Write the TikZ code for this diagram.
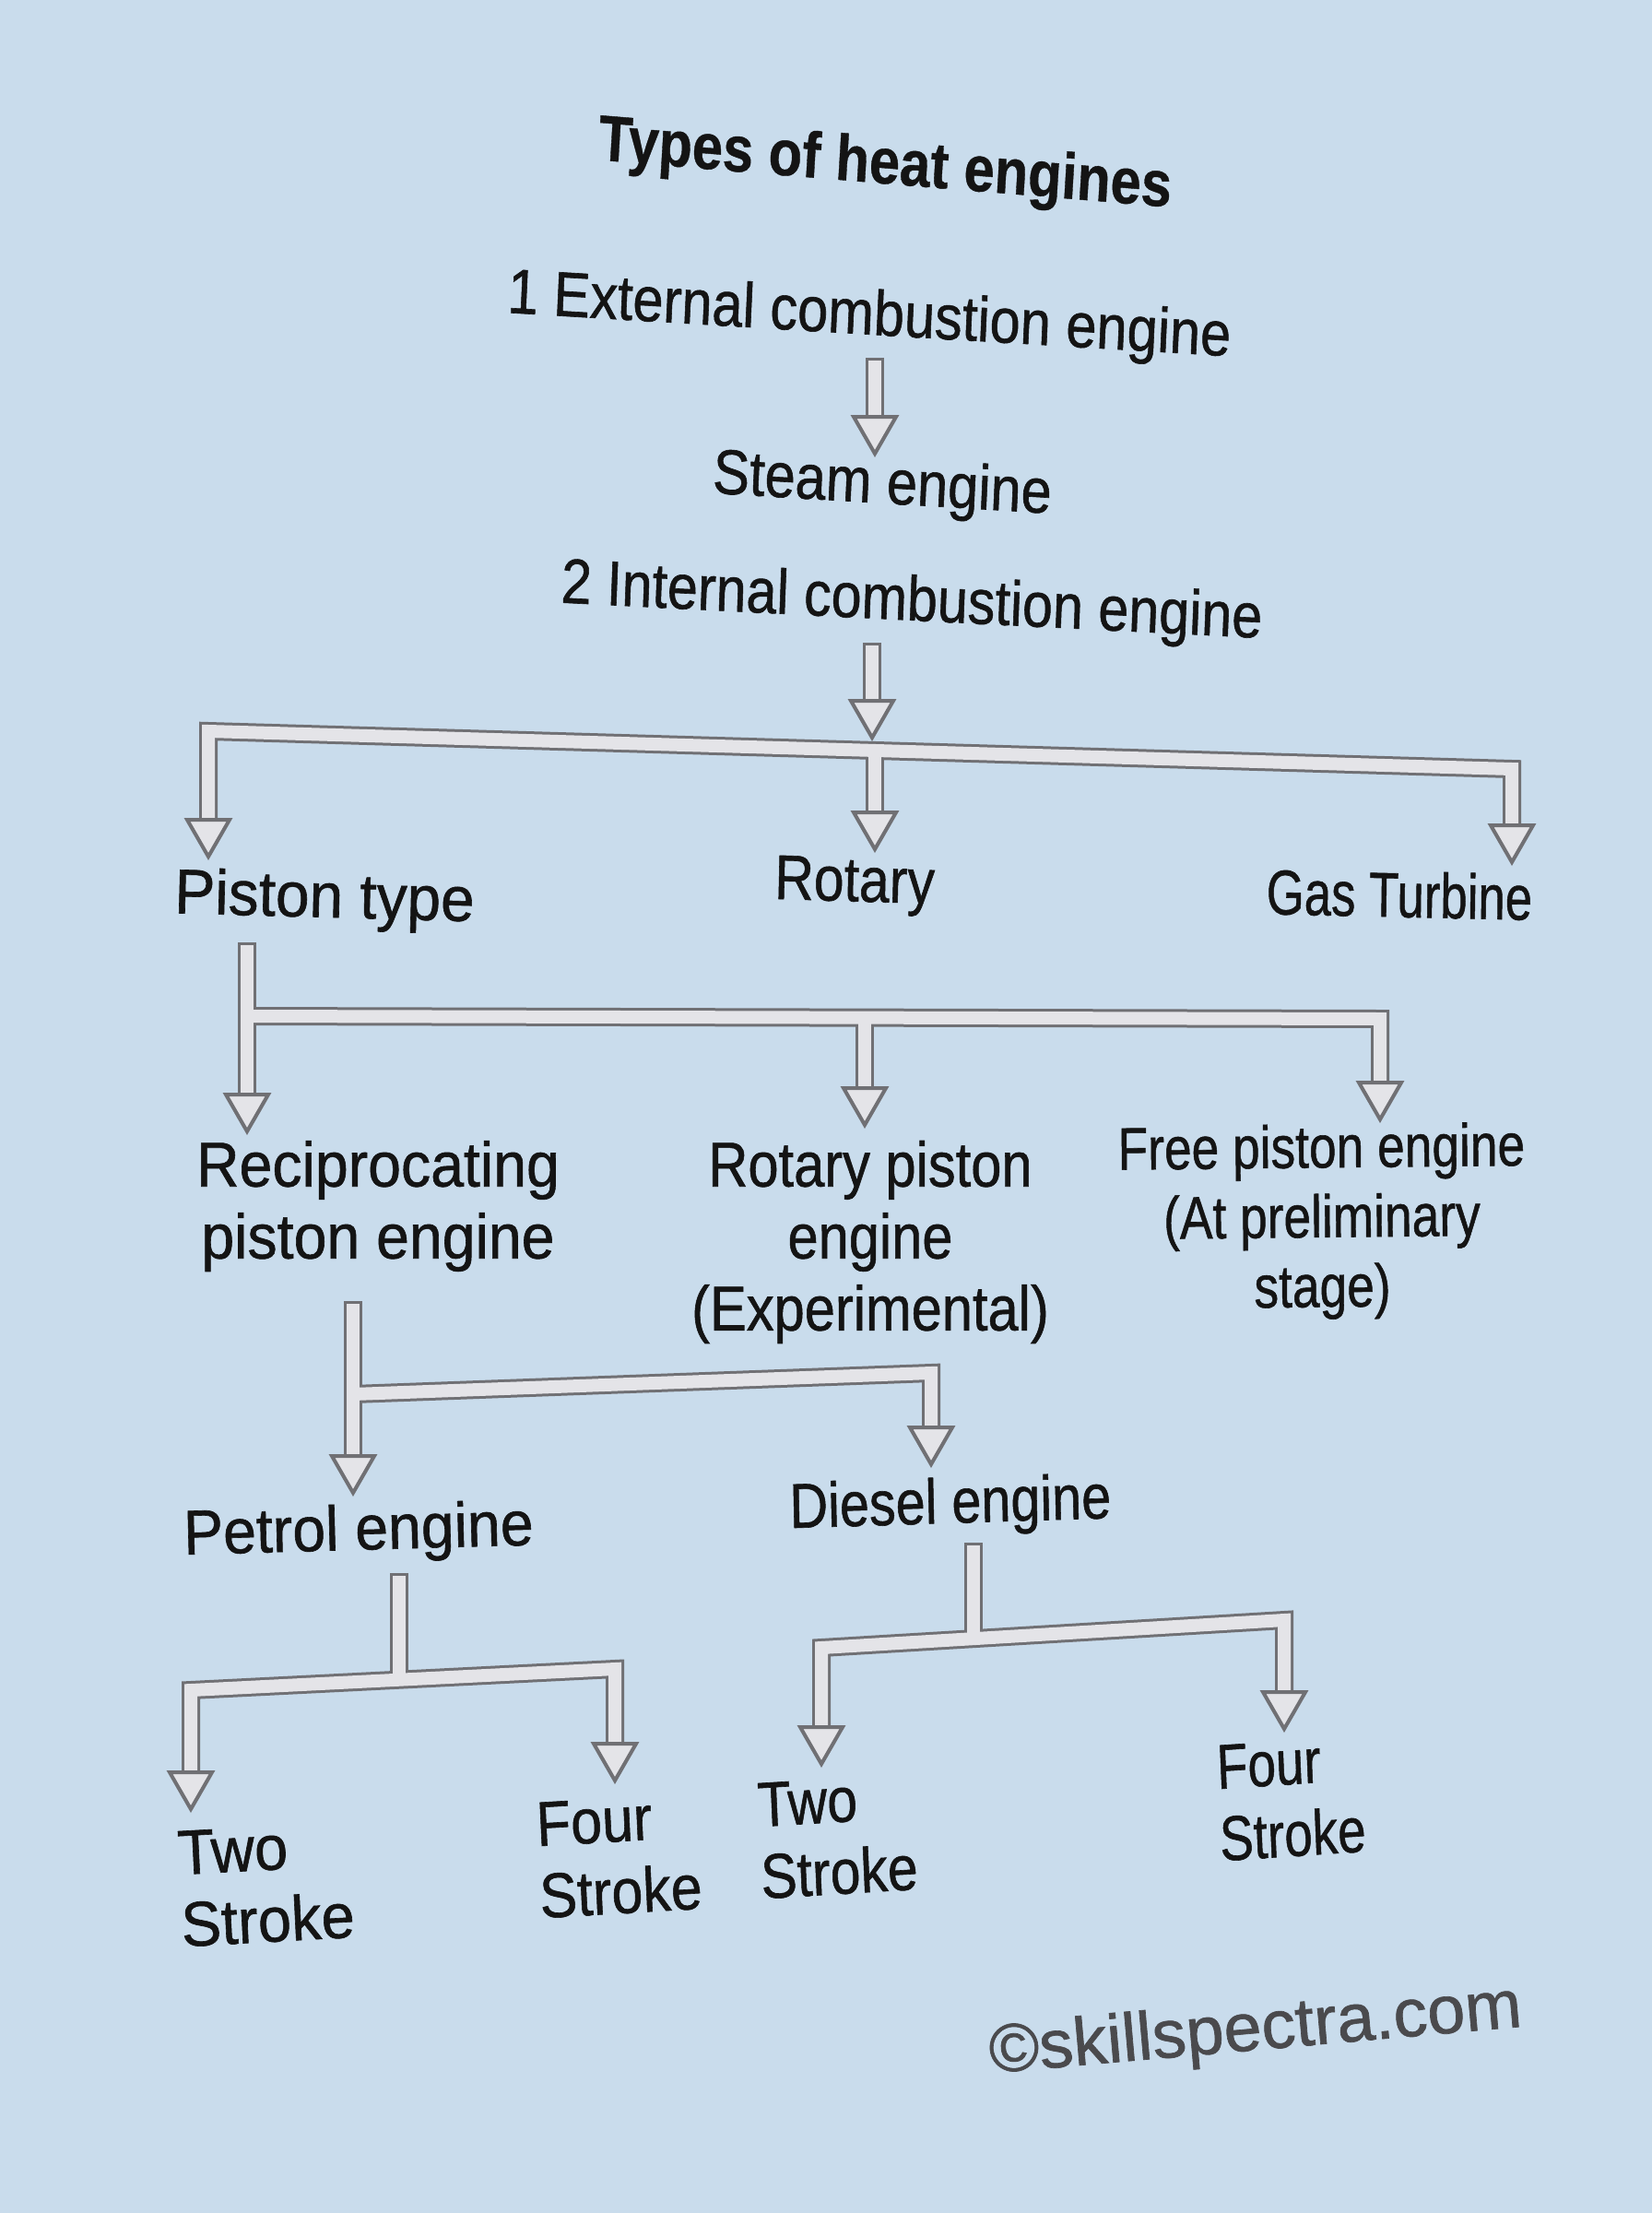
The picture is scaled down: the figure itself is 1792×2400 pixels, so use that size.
\documentclass[tikz,border=0pt]{standalone}
\usepackage{fontspec}
\setmainfont{Liberation Sans}
\newfontfamily\bodyf{Liberation Sans}[FakeBold=0.9]
\newfontfamily\titlef{Liberation Sans Bold}[FakeBold=0.6]
\definecolor{bg}{HTML}{C9DCEC}
\definecolor{ink}{HTML}{141414}
\definecolor{barline}{HTML}{707074}
\definecolor{barfill}{HTML}{E4E4E8}
\definecolor{wm}{HTML}{4A4A4D}
\begin{document}
\begin{tikzpicture}[x=0.1mm,y=-0.1mm,
  txt/.style={font=\bodyf\fontsize{19.5}{22.2}\selectfont, text=ink, inner sep=0pt, align=center},
  txtl/.style={txt, align=left, anchor=west},
  outl/.style={draw=barline, line width=2.0mm, line join=miter, line cap=butt},
  inl/.style={draw=barfill, line width=1.4mm, line join=miter, line cap=butt},
  tipsty/.style={fill=barfill, draw=barline, line width=0.4mm, line join=miter},
  tipd/.pic={\path[tipsty] (-23,-40) -- (23,-40) -- (0,0) -- cycle;}
]
\useasboundingbox (0,0) rectangle (1792,2400);
\fill[bg] (0,0) rectangle (1792,2400);

% ---------------- texts ----------------
\node[txt, font=\titlef\fontsize{20}{24}\selectfont, xscale=0.85, rotate=-4] (title) at (960,181) {Types of heat engines};
\node[txt, xscale=0.87, rotate=-3] (ext) at (943,345) {1 External combustion engine};
\node[txt, xscale=0.87, rotate=-3] (steam) at (957,528) {Steam engine};
\node[txt, xscale=0.865, rotate=-2.5] (ice) at (989,655) {2 Internal combustion engine};
\node[txt, xscale=0.96, rotate=-1.5] (piston) at (352,977) {Piston type};
\node[txt, xscale=0.86, rotate=-1.5] (rotary) at (927,961) {Rotary};
\node[txt, xscale=0.77, rotate=-1] (gas) at (1518,970) {Gas Turbine};
\node[txt, xscale=0.94] (recip) at (410,1308) {Reciprocating\\piston engine};
\node[txt, xscale=0.87] (rotpist) at (944,1347) {Rotary piston\\engine\\(Experimental)};
\node[txt, font=\bodyf\fontsize{18.5}{21.5}\selectfont, xscale=0.82, rotate=0.5] (free) at (1434,1325) {Free piston engine\\(At preliminary\\stage)};
\node[txt, xscale=0.94, rotate=1.5] (petrol) at (389,1663) {Petrol engine};
\node[txt, xscale=0.84, rotate=1.5] (diesel) at (1031,1634) {Diesel engine};
\node[txtl, xscale=0.95, rotate=3] (two1) at (194,2049) {Two\\Stroke};
\node[txtl, xscale=0.89, rotate=3] (four1) at (583,2018) {Four\\Stroke};
\node[txtl, xscale=0.86, rotate=3] (two2) at (823,1997) {Two\\Stroke};
\node[txtl, xscale=0.80, rotate=3] (four2) at (1321,1956) {Four\\Stroke};
\node[txt, font=\bodyf\fontsize{21}{24}\selectfont, text=wm, rotate=5] (wmark) at (1362,2204) {©skillspectra.com};

% ---------------- connector points ----------------
\coordinate (a0) at (949,388);  \coordinate (a1) at (949,492);
\coordinate (b0) at (946,697);  \coordinate (b1) at (946,800);
\coordinate (bLt) at (226,929); \coordinate (bL) at (226,793);
\coordinate (bR) at (1640,834); \coordinate (bRt) at (1640,935);
\coordinate (bM) at (949,814);  \coordinate (bMt) at (949,921);
\coordinate (c0) at (268,1022); \coordinate (c1) at (268,1227);
\coordinate (cJ) at (268,1102); \coordinate (cR) at (1497,1105); \coordinate (cRt) at (1497,1214);
\coordinate (cM) at (938,1104); \coordinate (cMt) at (938,1220);
\coordinate (d0) at (383,1411); \coordinate (d1) at (383,1619);
\coordinate (dJ) at (383,1512); \coordinate (dR) at (1010,1489); \coordinate (dRt) at (1010,1588);
\coordinate (e0) at (433,1706); \coordinate (eJ) at (433,1822);
\coordinate (eLt) at (207,1962); \coordinate (eL) at (207,1833);
\coordinate (eR) at (667,1810); \coordinate (eRt) at (667,1931);
\coordinate (f0) at (1056,1673); \coordinate (fJ) at (1056,1777);
\coordinate (fLt) at (891,1913); \coordinate (fL) at (891,1787);
\coordinate (fR) at (1393,1757); \coordinate (fRt) at (1393,1875);

% ---------------- External -> Steam ----------------
\draw[outl, shorten >=3.4mm] (a0) -- (a1);
\draw[inl, shorten >=3.4mm, shorten <=0.3mm] (a0) -- (a1);
\pic at (a1) {tipd};

% ---------------- Internal -> three ----------------
\draw[outl, shorten <=3.4mm, shorten >=3.4mm] (bLt) -- (bL) -- (bR) -- (bRt);
\draw[outl, shorten >=3.4mm] (bM) -- (bMt);
\draw[inl, shorten <=3.4mm, shorten >=3.4mm] (bLt) -- (bL) -- (bR) -- (bRt);
\draw[inl, shorten >=3.4mm] (bM) -- (bMt);
\pic at (bLt) {tipd}; \pic at (bMt) {tipd}; \pic at (bRt) {tipd};
\draw[outl, shorten >=3.4mm] (b0) -- (b1);
\draw[inl, shorten >=3.4mm, shorten <=0.3mm] (b0) -- (b1);
\pic at (b1) {tipd};

% ---------------- Piston type -> three ----------------
\draw[outl, shorten >=3.4mm] (c0) -- (c1);
\draw[outl, shorten >=3.4mm] (cJ) -- (cR) -- (cRt);
\draw[outl, shorten >=3.4mm] (cM) -- (cMt);
\draw[inl, shorten >=3.4mm, shorten <=0.3mm] (c0) -- (c1);
\draw[inl, shorten >=3.4mm] (cJ) -- (cR) -- (cRt);
\draw[inl, shorten >=3.4mm] (cM) -- (cMt);
\pic at (c1) {tipd}; \pic at (cMt) {tipd}; \pic at (cRt) {tipd};

% ---------------- Reciprocating -> two ----------------
\draw[outl, shorten >=3.4mm] (d0) -- (d1);
\draw[outl, shorten >=3.4mm] (dJ) -- (dR) -- (dRt);
\draw[inl, shorten >=3.4mm, shorten <=0.3mm] (d0) -- (d1);
\draw[inl, shorten >=3.4mm] (dJ) -- (dR) -- (dRt);
\pic at (d1) {tipd}; \pic at (dRt) {tipd};

% ---------------- Petrol -> two ----------------
\draw[outl] (e0) -- (eJ);
\draw[outl, shorten <=3.4mm, shorten >=3.4mm] (eLt) -- (eL) -- (eR) -- (eRt);
\draw[inl, shorten <=0.3mm] (e0) -- (eJ);
\draw[inl, shorten <=3.4mm, shorten >=3.4mm] (eLt) -- (eL) -- (eR) -- (eRt);
\pic at (eLt) {tipd}; \pic at (eRt) {tipd};

% ---------------- Diesel -> two ----------------
\draw[outl] (f0) -- (fJ);
\draw[outl, shorten <=3.4mm, shorten >=3.4mm] (fLt) -- (fL) -- (fR) -- (fRt);
\draw[inl, shorten <=0.3mm] (f0) -- (fJ);
\draw[inl, shorten <=3.4mm, shorten >=3.4mm] (fLt) -- (fL) -- (fR) -- (fRt);
\pic at (fLt) {tipd}; \pic at (fRt) {tipd};

\end{tikzpicture}
\end{document}
